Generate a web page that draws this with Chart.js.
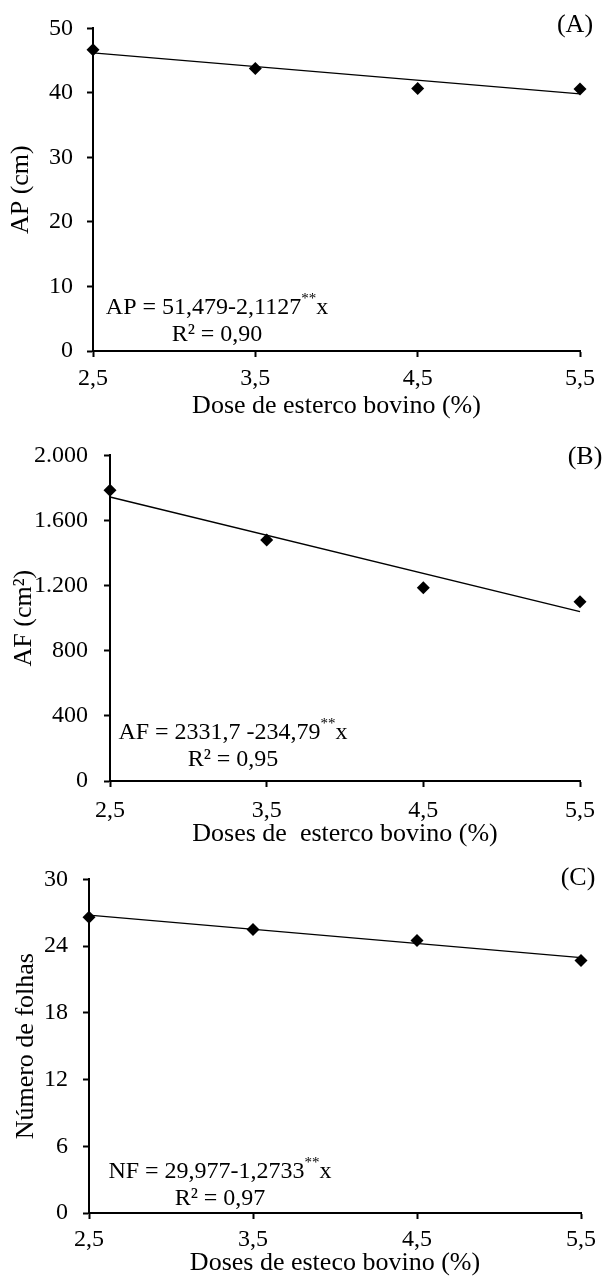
<!DOCTYPE html>
<html>
<head>
<meta charset="utf-8">
<script src="https://cdn.jsdelivr.net/npm/chart.js@4.4.0/dist/chart.umd.min.js"></script>
<style>
  body { margin: 0; background: #fff; width: 604px; height: 1276px; position: relative; overflow: hidden; }
  canvas { position: absolute; left: 0; }
</style>
</head>
<body>
<canvas id="chartA" width="604" height="425" style="top:0px"></canvas>
<canvas id="chartB" width="604" height="425" style="top:425px"></canvas>
<canvas id="chartC" width="604" height="426" style="top:850px"></canvas>
<script>
// doses of cattle manure (%)
const doses = [2.5, 3.5, 4.5, 5.5];
const doseTicks = [2.5, 3.5, 4.5, 5.5];

// (A) plant height, cm
const apValues = [46.7, 43.8, 40.7, 40.6];
const apTrend = [46.20, 39.86];
const apTicks = [0, 10, 20, 30, 40, 50];

// (B) leaf area, cm2
const afValues = [1786, 1481, 1187, 1101];
const afTrend = [1744.7, 1040.4];
const afTicks = [0, 400, 800, 1200, 1600, 2000];

// (C) number of leaves
const nfValues = [26.6, 25.5, 24.5, 22.7];
const nfTrend = [26.79, 22.97];
const nfTicks = [0, 6, 12, 18, 24, 30];

const serif = '"Liberation Serif", "Times New Roman", serif';
const trendX = [doses[0], doses[doses.length - 1]];

const fmtComma = v => v.toFixed(1).replace('.', ',');
const fmtThousands = v => String(v).replace(/\B(?=(\d{3})+(?!\d))/g, '.');

// draws the panel letter and the regression equation
const notesPlugin = {
  id: 'notes',
  afterDraw(chart, args, o) {
    const ctx = chart.ctx;
    ctx.save();
    ctx.fillStyle = '#000';
    ctx.textBaseline = 'middle';
    ctx.textAlign = 'center';
    ctx.font = '26px ' + serif;
    ctx.fillText(o.letter, o.letterX, o.letterY);

    ctx.font = '24px ' + serif;
    const w1 = ctx.measureText(o.eqMain).width;
    const w3 = ctx.measureText('x').width;
    ctx.font = '15px ' + serif;
    const w2 = ctx.measureText('**').width;
    const total = w1 + w2 + w3;
    let x = o.eqX - total / 2;
    ctx.textAlign = 'left';
    ctx.font = '24px ' + serif;
    ctx.fillText(o.eqMain, x, o.eqY);
    ctx.font = '15px ' + serif;
    ctx.fillText('**', x + w1, o.eqY - 9);
    ctx.font = '24px ' + serif;
    ctx.fillText('x', x + w1 + w2, o.eqY);

    ctx.textAlign = 'center';
    ctx.fillText(o.r2, o.eqX, o.eqY + 27);
    ctx.restore();
  }
};

function makePanel(id, cfg) {
  const points = doses.map((d, i) => ({ x: d, y: cfg.values[i] }));
  const trend = trendX.map((d, i) => ({ x: d, y: cfg.trend[i] }));
  return new Chart(document.getElementById(id).getContext('2d'), {
    type: 'scatter',
    data: {
      datasets: [{
        type: 'line',
        data: trend,
        borderColor: '#000',
        borderWidth: 1.4,
        pointRadius: 0,
        fill: false,
        clip: false
      }, {
        data: points,
        pointStyle: 'rectRot',
        pointRadius: 6.5,
        pointHoverRadius: 6.5,
        backgroundColor: '#000',
        borderColor: '#000',
        borderWidth: 0,
        clip: false
      }]
    },
    options: {
      responsive: false,
      animation: false,
      events: [],
      layout: { padding: { top: cfg.padTop, right: cfg.padRight, left: 0, bottom: 0 } },
      plugins: {
        legend: { display: false },
        tooltip: { enabled: false },
        notes: cfg.notes
      },
      scales: {
        x: {
          type: 'linear',
          min: 2.5,
          max: 5.5,
          afterBuildTicks: s => { s.ticks = doseTicks.map(v => ({ value: v })); },
          afterFit: s => { s.height = cfg.xHeight; },
          border: { color: '#000', width: 2 },
          grid: { drawOnChartArea: false, drawTicks: true, tickLength: 6, tickWidth: 2, tickColor: '#000' },
          ticks: {
            color: '#000',
            padding: cfg.xTickPad,
            maxRotation: 0,
            font: { family: serif, size: 24 },
            callback: v => fmtComma(v)
          },
          title: {
            display: true,
            text: cfg.xTitle,
            color: '#000',
            font: { family: serif, size: 26, lineHeight: 1 },
            padding: { top: 0, bottom: cfg.xTitlePad }
          }
        },
        y: {
          type: 'linear',
          min: cfg.yTicks[0],
          max: cfg.yTicks[cfg.yTicks.length - 1],
          afterBuildTicks: s => { s.ticks = cfg.yTicks.map(v => ({ value: v })); },
          afterFit: s => { s.width = cfg.yWidth; },
          border: { color: '#000', width: 2 },
          grid: { drawOnChartArea: false, drawTicks: true, tickLength: 6, tickWidth: 2, tickColor: '#000' },
          ticks: {
            color: '#000',
            padding: cfg.yTickPad,
            font: { family: serif, size: 24 },
            callback: cfg.yFormat
          },
          title: {
            display: true,
            text: cfg.yTitle,
            color: '#000',
            font: { family: serif, size: 26, lineHeight: 1.2 },
            padding: { top: cfg.yTitlePad, bottom: 0 }
          }
        }
      }
    },
    plugins: [notesPlugin]
  });
}

makePanel('chartA', {
  values: apValues, trend: apTrend, yTicks: apTicks,
  yFormat: v => String(v),
  xTitle: 'Dose de esterco bovino (%)', yTitle: 'AP (cm)',
  padTop: 23, padRight: 24, yWidth: 93, xHeight: 74,
  xTickPad: 7, xTitlePad: 6, yTickPad: 14, yTitlePad: 6,
  notes: { letter: '(A)', letterX: 575, letterY: 25,
           eqMain: 'AP = 51,479-2,1127', r2: 'R² = 0,90', eqX: 217, eqY: 308 }
});

makePanel('chartB', {
  values: afValues, trend: afTrend, yTicks: afTicks,
  yFormat: v => fmtThousands(v),
  xTitle: 'Doses de  esterco bovino (%)', yTitle: 'AF (cm²)',
  padTop: 29, padRight: 23, yWidth: 110, xHeight: 69,
  xTickPad: 9, xTitlePad: 3, yTickPad: 16, yTitlePad: 9,
  notes: { letter: '(B)', letterX: 585, letterY: 32,
           eqMain: 'AF = 2331,7 -234,79', r2: 'R² = 0,95', eqX: 233, eqY: 308 }
});

makePanel('chartC', {
  values: nfValues, trend: nfTrend, yTicks: nfTicks,
  yFormat: v => String(v),
  xTitle: 'Doses de esteco bovino (%)', yTitle: 'Número de folhas',
  padTop: 29, padRight: 23, yWidth: 89, xHeight: 63,
  xTickPad: 6, xTitlePad: 0, yTickPad: 15, yTitlePad: 11,
  notes: { letter: '(C)', letterX: 578, letterY: 28,
           eqMain: 'NF = 29,977-1,2733', r2: 'R² = 0,97', eqX: 220, eqY: 322 }
});
</script>
</body>
</html>
